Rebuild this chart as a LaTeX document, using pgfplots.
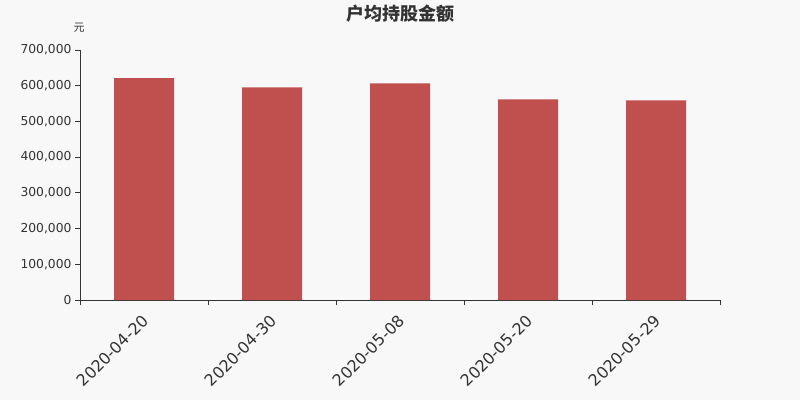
\documentclass[border=0pt]{standalone}
\usepackage{pgfplots}
\pgfplotsset{compat=1.18}
\usepackage{fontspec}
\setmainfont{DejaVu Sans}
\newfontfamily\cjk{Noto Sans CJK SC}
\definecolor{bg}{HTML}{F8F8F8}
\definecolor{barred}{HTML}{C0504D}
\definecolor{txt}{HTML}{333333}
\begin{document}
\begin{tikzpicture}
\useasboundingbox (0pt,0pt) rectangle (800pt,400pt);
\fill[bg] (0pt,0pt) rectangle (800pt,400pt);
\node[font=\cjk\bfseries\fontsize{18}{20}\selectfont, text=txt] at (400pt,386pt) {户均持股金额};
\node[font=\cjk\fontsize{11}{12}\selectfont, text=txt] at (79pt,372pt) {元};
\begin{axis}[
  at={(80pt,100pt)}, anchor=south west,
  width=640pt, height=250pt, scale only axis,
  xmin=-0.5, xmax=4.5, ymin=0, ymax=700000,
  axis lines*=left,
  axis line style={txt, line width=0.8pt},
  ybar, bar width=60pt,
  xtick={0,1,2,3,4},
  xticklabels={2020-04-20,2020-04-30,2020-05-08,2020-05-20,2020-05-29},
  major x tick style={draw=none},
  minor xtick={-0.5,0.5,1.5,2.5,3.5,4.5},
  minor x tick style={txt, line width=0.8pt},
  minor tick length=5pt,
  x tick label style={rotate=45, anchor=north east, font=\fontsize{16}{18}\selectfont, text=txt, inner sep=1pt, yshift=-3pt, xshift=-7pt},
  ytick={0,100000,...,700000},
  y tick style={txt, line width=0.8pt},
  major tick length=5pt,
  tick align=outside,
  y tick label style={font=\fontsize{12.3}{14}\selectfont, text=txt},
  scaled y ticks=false,
  yticklabel style={/pgf/number format/.cd, fixed, 1000 sep={,}, assume math mode=true},
  clip=false,
]
\addplot[fill=barred, draw=none, bar shift=0pt] coordinates {
  (0,621600) (1,595500) (2,606700) (3,562000) (4,559000)
};
\end{axis}
\end{tikzpicture}
\end{document}
